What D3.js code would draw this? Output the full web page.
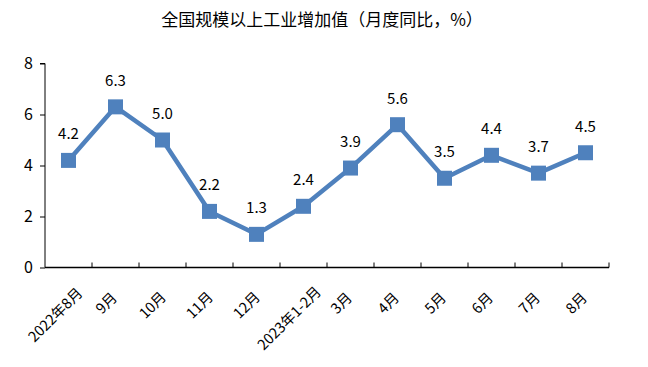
<!DOCTYPE html>
<html>
<head>
<meta charset="utf-8">
<script src="https://cdn.jsdelivr.net/npm/d3@7"></script>
<style>
  body { margin: 0; background: #fff; }
  text { font-family: "Noto Sans CJK SC", "Noto Sans", sans-serif; fill: #000; }
</style>
</head>
<body>
<div id="chart"></div>
<script>
var categories = ["2022年8月", "9月", "10月", "11月", "12月", "2023年1-2月", "3月", "4月", "5月", "6月", "7月", "8月"];
var values = [4.2, 6.3, 5.0, 2.2, 1.3, 2.4, 3.9, 5.6, 3.5, 4.4, 3.7, 4.5];
var yTicks = [0, 2, 4, 6, 8];
var title = "全国规模以上工业增加值（月度同比，%）";

var w = 648, h = 367,
    plotLeft = 45, plotRight = 609, plotTop = 63.5, plotBottom = 267.5,
    blue = "#4f81bd";

var svg = d3.select("#chart").append("svg")
    .attr("width", w)
    .attr("height", h);

var x = d3.scaleBand().domain(categories).range([plotLeft, plotRight]);
var y = d3.scaleLinear().domain([0, 8]).range([plotBottom, plotTop]);

svg.append("text")
    .attr("x", 322)
    .attr("y", 26)
    .attr("text-anchor", "middle")
    .style("font-size", "17px")
    .text(title);

// y axis
var yAxis = svg.append("g")
    .attr("transform", "translate(" + plotLeft + ",0)")
    .call(d3.axisLeft(y).tickValues(yTicks).tickSize(5).tickPadding(7).tickFormat(d3.format("d")));
yAxis.selectAll("text").style("font-size", "16px");
yAxis.selectAll("line, path").attr("stroke", "#000");
yAxis.select(".domain").attr("d", "M-5," + plotTop + "H0V" + plotBottom);

// x axis, ticks on band edges pointing up
var xAxis = svg.append("g")
    .attr("transform", "translate(0," + plotBottom + ")");
xAxis.append("line")
    .attr("x1", plotLeft).attr("x2", plotRight)
    .attr("stroke", "#000").attr("stroke-width", 1.3);
var edges = categories.map(function (c) { return x(c) + x.bandwidth(); });
xAxis.selectAll(".tk")
    .data(edges)
    .enter()
    .append("line")
    .attr("class", "tk")
    .attr("x1", function (d) { return d; })
    .attr("x2", function (d) { return d; })
    .attr("y1", 0).attr("y2", -5)
    .attr("stroke", "#000");
xAxis.selectAll(".lbl")
    .data(categories)
    .enter()
    .append("text")
    .attr("class", "lbl")
    .attr("text-anchor", "end")
    .attr("dy", "0.35em")
    .style("font-size", "14.5px")
    .text(function (d) { return d; })
    .attr("transform", function (d) {
        // longer labels sit a bit further right / higher, like the original
        var L = this.getComputedTextLength() - 22;
        var ax = x(d) + x.bandwidth() / 2 - 1.3 + 0.27 * L,
            ay = 27.7 - 0.1 * L;
        return "translate(" + ax + "," + ay + ") rotate(-45)";
    });

// line + markers
var line = d3.line()
    .x(function (d, i) { return x(categories[i]) + x.bandwidth() / 2; })
    .y(function (d) { return y(d); });

svg.append("path")
    .datum(values)
    .attr("d", line)
    .attr("fill", "none")
    .attr("stroke", blue)
    .attr("stroke-width", 4.5)
    .attr("stroke-linejoin", "round");

svg.selectAll(".mk")
    .data(values)
    .enter()
    .append("rect")
    .attr("class", "mk")
    .attr("x", function (d, i) { return x(categories[i]) + x.bandwidth() / 2 - 7.5; })
    .attr("y", function (d) { return y(d) - 7.5; })
    .attr("width", 15)
    .attr("height", 15)
    .attr("fill", blue);

svg.selectAll(".val")
    .data(values)
    .enter()
    .append("text")
    .attr("class", "val")
    .attr("x", function (d, i) { return x(categories[i]) + x.bandwidth() / 2; })
    .attr("y", function (d) { return y(d) - 21; })
    .attr("text-anchor", "middle")
    .style("font-size", "15px")
    .text(function (d) { return d3.format(".1f")(d); });
</script>
</body>
</html>
